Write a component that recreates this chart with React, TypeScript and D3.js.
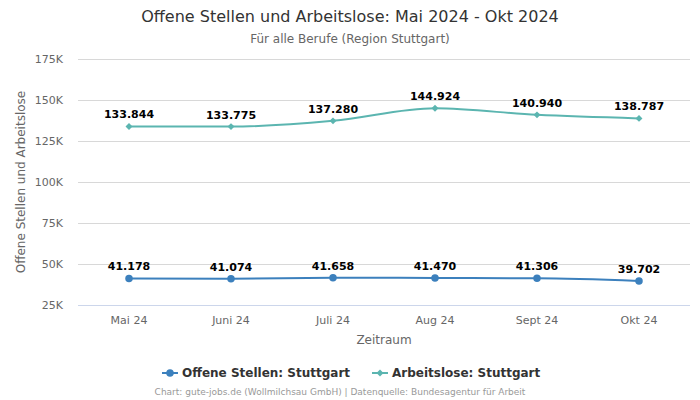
import * as d3 from "d3";
import { useEffect, useRef } from "react";

const months = ["Mai 24", "Juni 24", "Juli 24", "Aug 24", "Sept 24", "Okt 24"];
const offeneStellen = [41178, 41074, 41658, 41470, 41306, 39702];
const arbeitslose = [133844, 133775, 137280, 144924, 140940, 138787];
const yTicks = [25000, 50000, 75000, 100000, 125000, 150000, 175000];

const blue = "#3c80bd";
const teal = "#5bb5b0";
const font = "DejaVu Sans, sans-serif";

const App = () => {
    const ref = useRef<SVGSVGElement | null>(null);

    useEffect(() => {
        if (!ref.current) return;
        const svg = d3.select(ref.current);
        svg.selectAll("*").remove();

        const left = 78, right = 690, top = 59, bottom = 305;

        const x = d3.scalePoint().domain(months).range([left, right]).padding(0.5);
        const y = d3.scaleLinear().domain([25000, 175000]).range([bottom, top]);

        // title
        svg.append("text").attr("x", 350).attr("y", 22).attr("text-anchor", "middle")
            .style("font-size", "16px").style("fill", "#333").text("Offene Stellen und Arbeitslose: Mai 2024 - Okt 2024");
        svg.append("text").attr("x", 350).attr("y", 43).attr("text-anchor", "middle")
            .style("font-size", "12px").style("fill", "#666").text("Für alle Berufe (Region Stuttgart)");

        // grid
        svg.append("g").selectAll("line").data(yTicks).join("line")
            .attr("x1", left).attr("x2", right)
            .attr("y1", d => y(d) + 0.5).attr("y2", d => y(d) + 0.5)
            .attr("stroke", d => d === 25000 ? "#ccd6eb" : "#d8d8d8").attr("stroke-width", 1);

        svg.append("g").selectAll("text").data(yTicks).join("text")
            .attr("x", 63).attr("y", d => y(d) + 4).attr("text-anchor", "end")
            .style("font-size", "11px").style("fill", "#666")
            .text(d => `${d / 1000}K`);

        svg.append("g").selectAll("text").data(months).join("text")
            .attr("x", d => x(d)!).attr("y", 324).attr("text-anchor", "middle")
            .style("font-size", "11px").style("fill", "#666").text(d => d);

        svg.append("text").attr("x", (left + right) / 2).attr("y", 344).attr("text-anchor", "middle")
            .style("font-size", "12px").style("fill", "#666").text("Zeitraum");
        svg.append("text").attr("transform", `translate(25,${(top + bottom) / 2}) rotate(-90)`)
            .attr("text-anchor", "middle").style("font-size", "12px").style("fill", "#666")
            .text("Offene Stellen und Arbeitslose");

        const line = d3.line<number>()
            .x((_, i) => x(months[i])!)
            .y(d => y(d))
            .curve(d3.curveMonotoneX);

        // diamond = square rotated 45deg
        const series = [
            { values: arbeitslose, color: teal, symbol: d3.symbolSquare, size: 24, rot: 45 },
            { values: offeneStellen, color: blue, symbol: d3.symbolCircle, size: 44, rot: 0 },
        ];

        series.forEach(s => {
            svg.append("path").attr("d", line(s.values)!).attr("fill", "none")
                .attr("stroke", s.color).attr("stroke-width", 2);
            svg.append("g").selectAll("path").data(s.values).join("path")
                .attr("d", d3.symbol().type(s.symbol).size(s.size)()!)
                .attr("transform", (d, i) => `translate(${x(months[i])},${y(d)}) rotate(${s.rot})`)
                .attr("fill", s.color);
            svg.append("g").selectAll("text").data(s.values).join("text")
                .attr("x", (_, i) => x(months[i])!).attr("y", d => y(d) - 8)
                .attr("text-anchor", "middle")
                .style("font-size", "11px").style("font-weight", "bold").style("fill", "#000")
                .text(d => d3.format(",")(d).replace(/,/g, "."));
        });

        // legend
        const legend = [
            { label: "Offene Stellen: Stuttgart", color: blue, symbol: d3.symbolCircle, size: 44, rot: 0, x: 162 },
            { label: "Arbeitslose: Stuttgart", color: teal, symbol: d3.symbolSquare, size: 24, rot: 45, x: 372 },
        ];
        legend.forEach(l => {
            const g = svg.append("g").attr("transform", `translate(${l.x},373)`);
            g.append("line").attr("x1", 0).attr("x2", 16).attr("stroke", l.color).attr("stroke-width", 2);
            g.append("path").attr("d", d3.symbol().type(l.symbol).size(l.size)()!)
                .attr("transform", `translate(8,0) rotate(${l.rot})`).attr("fill", l.color);
            g.append("text").attr("x", 20).attr("y", 4).style("font-size", "12px")
                .style("font-weight", "bold").style("fill", "#333").text(l.label);
        });

        svg.append("text").attr("x", 340).attr("y", 395).attr("text-anchor", "middle")
            .style("font-size", "9px").style("fill", "#999")
            .text("Chart: gute-jobs.de (Wollmilchsau GmbH) | Datenquelle: Bundesagentur für Arbeit");
    }, []);

    return (
        <svg ref={ref} width={700} height={400}
            style={{ position: "absolute", left: 0, top: 0, fontFamily: font, background: "#fff" }} />
    );
};

export default App;
